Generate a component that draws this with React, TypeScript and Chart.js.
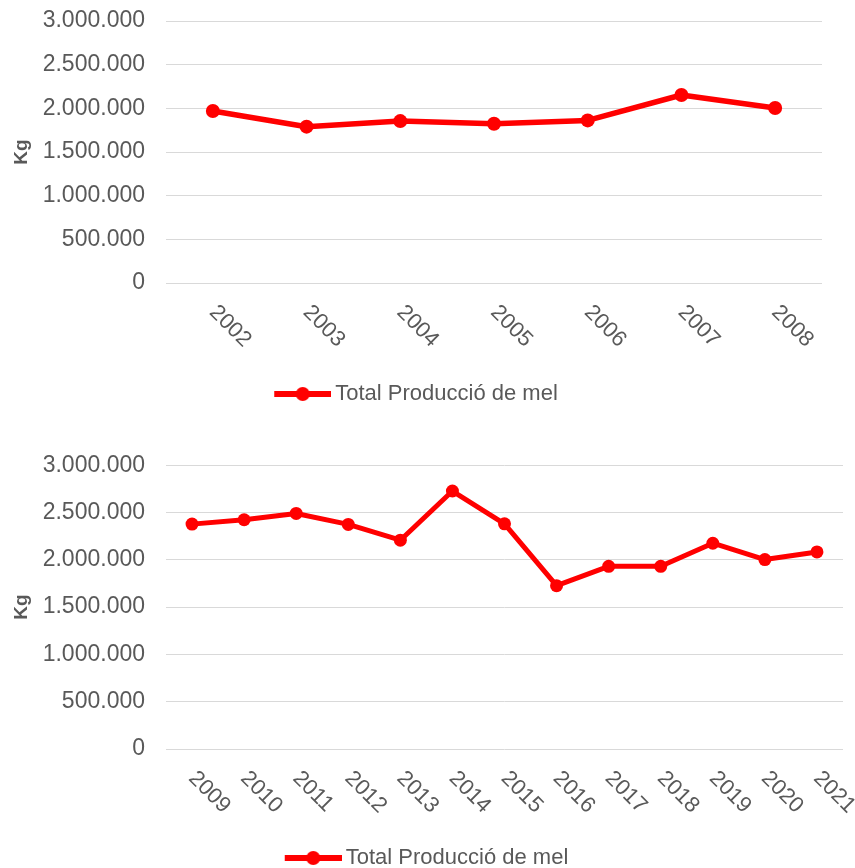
import React, { useEffect, useRef } from "react";
import { Chart, registerables } from "chart.js";

Chart.register(...registerables);

const years1 = ["2002", "2003", "2004", "2005", "2006", "2007", "2008"];
const values1 = [1969000, 1790000, 1854000, 1824000, 1862000, 2153000, 2004000];

const years2 = ["2009", "2010", "2011", "2012", "2013", "2014", "2015", "2016", "2017", "2018", "2019", "2020", "2021"];
const values2 = [2378000, 2424000, 2491000, 2375000, 2208000, 2728000, 2381000, 1727000, 1932000, 1932000, 2176000, 2003000, 2084000];

const seriesName = "Total Producció de mel";
const yTitle = "Kg";
const yMin = 0;
const yMax = 3000000;
const yStep = 500000;

const RED = "#ff0000";
const GREY = "#595959";
const FONT = "'Liberation Sans', Arial, sans-serif";

function fmt(v: number): string {
  return String(Math.round(v)).replace(/\B(?=(\d{3})+(?!\d))/g, ".");
}

function legendImage(): HTMLCanvasElement {
  const c = document.createElement("canvas");
  c.width = 64;
  c.height = 16;
  const ctx = c.getContext("2d")!;
  ctx.strokeStyle = RED;
  ctx.lineWidth = 6;
  ctx.beginPath();
  ctx.moveTo(7, 8);
  ctx.lineTo(64, 8);
  ctx.stroke();
  ctx.fillStyle = RED;
  ctx.beginPath();
  ctx.arc(35.5, 8, 7, 0, Math.PI * 2);
  ctx.fill();
  return c;
}

const rotatedXLabels = {
  id: "rotatedXLabels",
  afterDraw(chart: any) {
    const xs = chart.scales.x;
    const ctx = chart.ctx;
    const labels = chart.data.labels as string[];
    const base = chart.chartArea.bottom + 26;
    ctx.save();
    ctx.fillStyle = GREY;
    ctx.font = `22px ${FONT}`;
    ctx.textAlign = "left";
    ctx.textBaseline = "middle";
    labels.forEach((lab, i) => {
      const x = xs.getPixelForTick(i);
      ctx.save();
      ctx.translate(x, base);
      ctx.rotate(Math.PI / 4);
      ctx.fillText(lab, 0, 0);
      ctx.restore();
    });
    ctx.restore();
  },
};

function makeConfig(labels: string[], values: number[], opts: any) {
  return {
    type: "line",
    data: {
      labels,
      datasets: [
        {
          label: seriesName,
          data: values,
          borderColor: RED,
          backgroundColor: RED,
          borderWidth: opts.lineWidth,
          borderJoinStyle: "round",
          borderCapStyle: "round",
          pointRadius: opts.pointRadius,
          pointHoverRadius: opts.pointRadius,
          pointBackgroundColor: RED,
          pointBorderColor: RED,
          pointBorderWidth: 0,
          tension: 0,
        },
      ],
    },
    options: {
      responsive: false,
      animation: false,
      events: [],
      layout: { padding: { left: 10, right: opts.padRight, top: opts.padTop, bottom: 0 } },
      plugins: {
        tooltip: { enabled: false },
        legend: {
          position: "bottom",
          labels: {
            usePointStyle: true,
            pointStyle: legendImage(),
            pointStyleWidth: 50,
            padding: opts.legendPad,
            color: GREY,
            font: { family: FONT, size: 22 },
          },
        },
      },
      scales: {
        x: {
          offset: true,
          grid: { display: false },
          border: { display: false },
          ticks: { display: false },
          afterFit: (s: any) => {
            s.height = opts.xHeight;
          },
        },
        y: {
          min: yMin,
          max: yMax,
          border: { display: false },
          grid: {
            color: "#d9d9d9",
            lineWidth: 1,
            drawTicks: true,
            tickLength: 21,
            tickColor: "rgba(0,0,0,0)",
          },
          ticks: {
            stepSize: yStep,
            padding: 0,
            color: GREY,
            font: { family: FONT, size: 23 },
            callback: (v: any) => fmt(Number(v)),
          },
          title: {
            display: true,
            text: yTitle,
            color: GREY,
            padding: { top: 0, bottom: 0 },
            font: { family: FONT, size: 19, weight: "bold" },
          },
          afterFit: (s: any) => {
            s.width = 156;
          },
        },
      },
    },
    plugins: [rotatedXLabels],
  };
}

function LineChart(props: { labels: string[]; values: number[]; height: number; top: number; opts: any }) {
  const ref = useRef<HTMLCanvasElement | null>(null);
  useEffect(() => {
    if (!ref.current) return;
    const chart = new Chart(ref.current, makeConfig(props.labels, props.values, props.opts) as any);
    return () => chart.destroy();
  }, []);
  return (
    <canvas
      ref={ref}
      width={855}
      height={props.height}
      style={{ position: "absolute", left: 0, top: props.top, width: 855, height: props.height }}
    />
  );
}

export default function App() {
  return (
    <div
      style={{
        position: "absolute",
        left: 0,
        top: 0,
        width: 855,
        height: 868,
        overflow: "hidden",
        background: "#ffffff",
      }}
    >
      <LineChart
        labels={years1}
        values={values1}
        height={415}
        top={0}
        opts={{ padRight: 33, padTop: 21, legendPad: 10, xHeight: 90, lineWidth: 5.5, pointRadius: 7 }}
      />
      <LineChart
        labels={years2}
        values={values2}
        height={435}
        top={444}
        opts={{ padRight: 12, padTop: 21.3, legendPad: 6, xHeight: 92, lineWidth: 5, pointRadius: 6.5 }}
      />
    </div>
  );
}
